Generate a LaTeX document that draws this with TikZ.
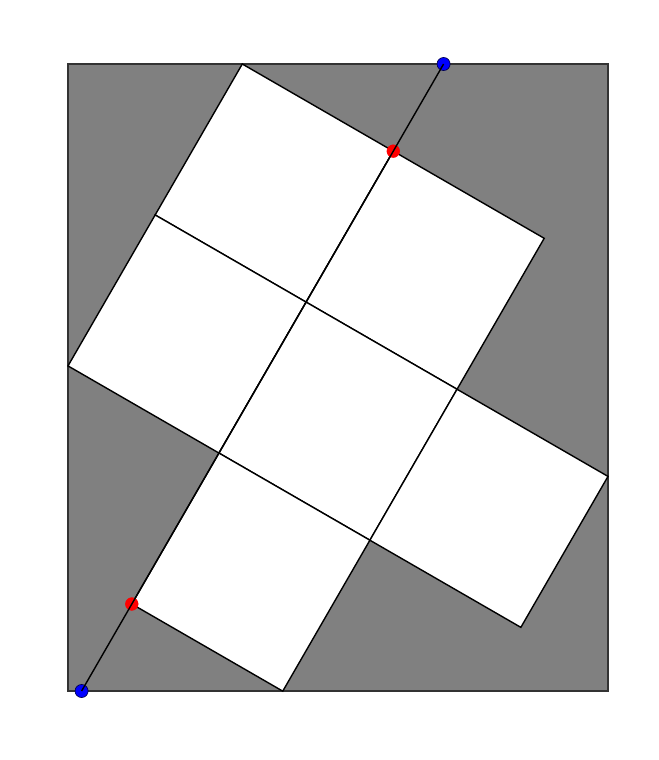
\documentclass[tikz,border=0pt]{standalone}
\begin{document}
\begin{tikzpicture}[x=0.75pt,y=-0.75pt,
  frame/.style={fill={rgb,255:red,128;green,128;blue,128},draw=black!80,line width=1.1pt},
  face/.style={fill=white,draw=black,line width=1.05pt,line join=miter},
  axisline/.style={draw=black,line width=1.05pt},
  bluedot/.style={circle,fill=blue,draw=black!70!blue,line width=0.5pt,inner sep=0pt,minimum size=9.8pt},
  reddot/.style={circle,fill=red,draw=red,inner sep=0pt,minimum size=9.5pt}]
\useasboundingbox (0,0) rectangle (658,760);
\coordinate (R1) at (68,64);
\coordinate (R2) at (608,691);
\draw[frame] (R1) rectangle (R2);
\foreach \i in {0,...,3}
  \foreach \j in {0,...,3}
    \coordinate (p\i\j) at ({242.3+\i*150.95-\j*87.15},{64+\i*87.15+\j*150.95});
\foreach \i/\j/\k/\l in {0/0/1/1, 1/0/2/1, 0/1/1/2, 1/1/2/2, 2/1/3/2, 1/2/2/3}
  \draw[face] (p\i\j) -- (p\k\j) -- (p\k\l) -- (p\i\l) -- cycle;
\coordinate (btop) at (443.6,64);
\coordinate (bbot) at (81.6,691);
\node[reddot] (rtop) at (p10) {};
\node[reddot] (rbot) at (p13) {};
\node[bluedot] (dtop) at (btop) {};
\node[bluedot] (dbot) at (bbot) {};
\draw[axisline] (dbot.center) -- (dtop.center);
\end{tikzpicture}
\end{document}
